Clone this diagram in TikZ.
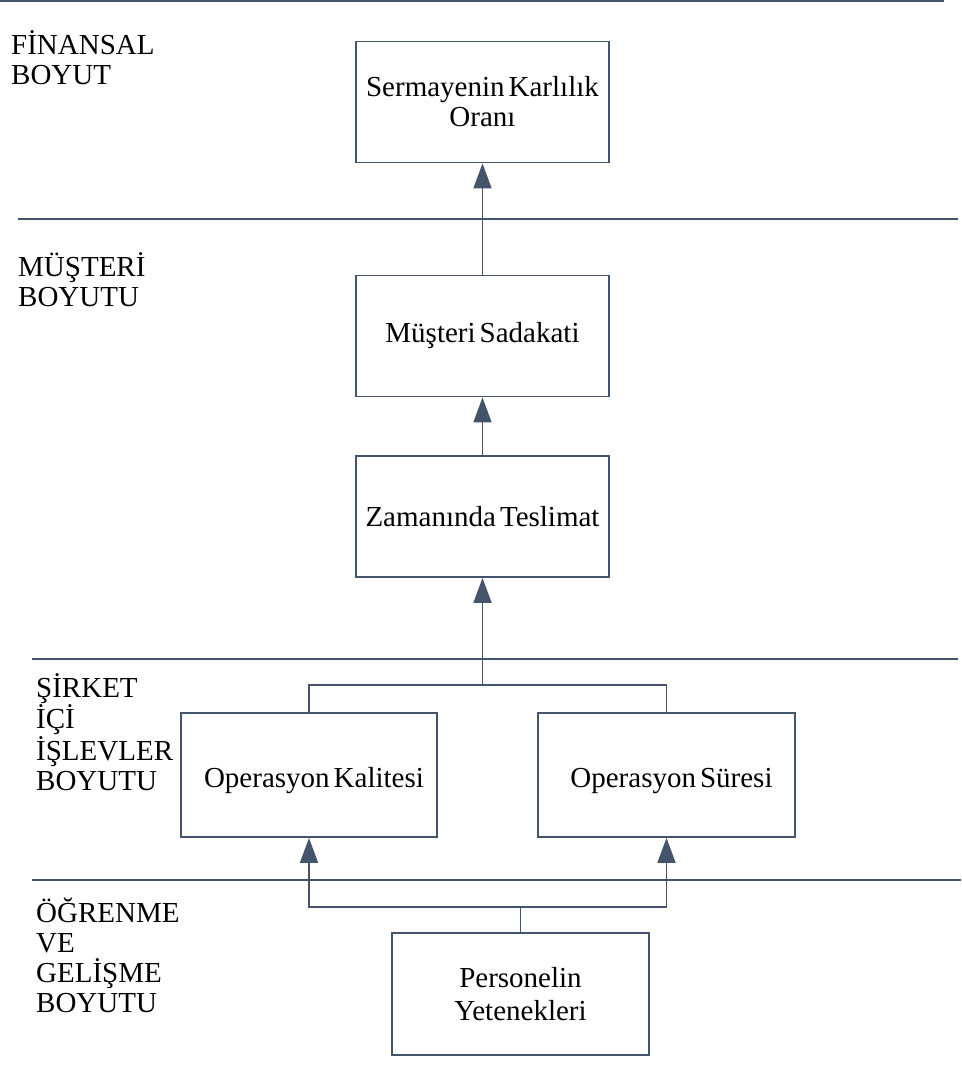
\documentclass[tikz,border=0pt]{standalone}
\usepackage{fontspec}
\setmainfont{Liberation Serif}
\usetikzlibrary{arrows.meta}
\definecolor{linecol}{HTML}{44546A}
\newcommand{\labelfont}{\fontsize{29}{30}\selectfont\spaceskip=0.14em plus 0.05em\relax}
\newcommand{\tallfont}{\fontsize{29}{33}\selectfont\spaceskip=0.14em plus 0.05em\relax}
\begin{document}
\begin{tikzpicture}[x=1pt,y=-1pt,
  every node/.style={font=\labelfont},
  box/.style={draw=linecol, line width=1.8pt, fill=white, align=center,
    minimum width=253pt, minimum height=121pt, inner sep=0pt},
  lowtext/.style={text height=31pt, text depth=6.3pt},
  sep/.style={draw=linecol, line width=1.6pt},
  link/.style={draw=linecol, line width=1.7pt},
  arr/.style={link, -{Triangle[width=18pt,length=25pt]}},
  dimlabel/.style={anchor=base west, align=left, inner sep=0pt}]
\useasboundingbox (0,0) rectangle (961,1084);

% perspective separators
\draw[sep] (0,1) -- (944,1);
\draw[sep] (18,219) -- (958,219);
\draw[sep] (32,659) -- (958,659);
\draw[sep] (32,880) -- (961,880);

% perspective labels (anchored at the baseline of the last line)
\node[dimlabel] (lfin) at (11,84) {FİNANSAL\\BOYUT};
\node[dimlabel] (lmus) at (18,306) {MÜŞTERİ\\BOYUTU};
\node[dimlabel] (lsir) at (36,790) {ŞİRKET\\İÇİ\\İŞLEVLER\\BOYUTU};
\node[dimlabel] (logr) at (36,1012) {ÖĞRENME\\VE\\GELİŞME\\BOYUTU};

% measures
\node[box] (b1) at (482.5,102) {Sermayenin Karlılık\\Oranı};
\node[box] (b2) at (482.5,336) {Müşteri Sadakati};
\node[box] (b3) at (482.5,516.5) {Zamanında Teslimat};
\node[box, lowtext, minimum width=256pt, minimum height=124pt] (b4) at (309,775) {\hspace*{10pt}Operasyon Kalitesi};
\node[box, lowtext, minimum width=257pt, minimum height=124pt] (b5) at (666.5,775) {\hspace*{10pt}Operasyon Süresi};
\node[box, minimum width=257pt, minimum height=122pt, font=\tallfont] (b6) at (520.5,994) {Personelin\\Yetenekleri};

% cause-effect links
\coordinate (j1) at (482.5,685);
\coordinate (j2) at (520.5,907);
\draw[arr] (b2.north) -- (b1.south);
\draw[arr] (b3.north) -- (b2.south);
\draw[link] (b4.north) |- (j1) -| (b5.north);
\draw[arr] (j1) -- (b3.south);
\draw[link] (b6.north) -- (j2);
\draw[arr] (j2) -| (b4.south);
\draw[arr] (j2) -| (b5.south);
\end{tikzpicture}
\end{document}
